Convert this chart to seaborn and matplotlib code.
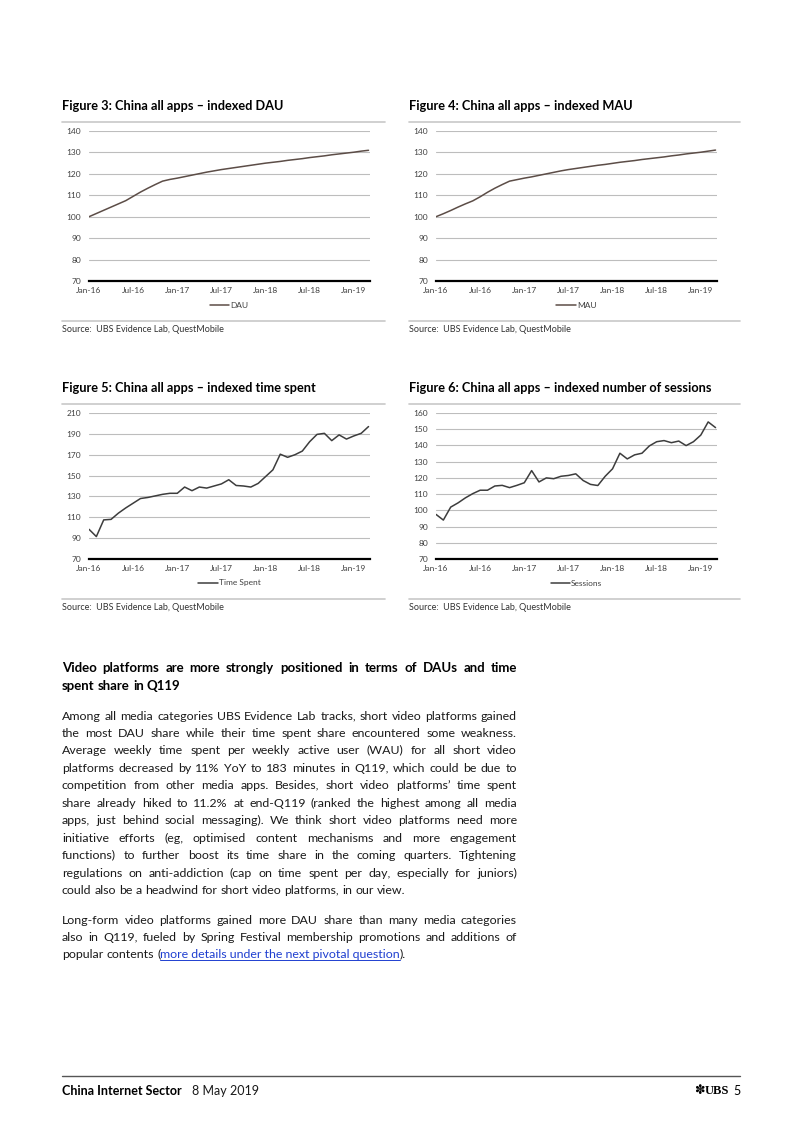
import math
import matplotlib
matplotlib.use('Agg')
import matplotlib.pyplot as plt
from matplotlib.lines import Line2D
import seaborn as sns
import pandas as pd

W, H = 802, 1133

# monthly index values, Jan-16 .. Mar-19
tick_labels = ['Jan-16', 'Jul-16', 'Jan-17', 'Jul-17', 'Jan-18', 'Jul-18', 'Jan-19']

dau = [100.0, 101.5, 103.0, 104.5, 106.0, 107.5, 109.5, 111.5, 113.3, 115.0,
       116.6, 117.4, 118.0, 118.7, 119.4, 120.1, 120.8, 121.4, 122.0, 122.5,
       123.0, 123.5, 124.0, 124.5, 125.0, 125.4, 125.8, 126.3, 126.7, 127.1,
       127.6, 128.0, 128.4, 128.9, 129.3, 129.7, 130.1, 130.6, 131.0]
mau = [100.0, 101.4, 102.9, 104.5, 106.0, 107.4, 109.3, 111.4, 113.3, 115.0,
       116.6, 117.3, 118.0, 118.6, 119.3, 120.0, 120.7, 121.4, 122.0, 122.5,
       123.0, 123.5, 124.0, 124.4, 124.9, 125.4, 125.8, 126.2, 126.7, 127.1,
       127.5, 127.9, 128.4, 128.8, 129.3, 129.7, 130.1, 130.6, 131.1]
time_spent = [98.5, 91.5, 107.5, 108.0, 114.0, 119.0, 123.5, 128.0, 129.0, 130.5,
              132.0, 133.0, 133.0, 139.0, 135.5, 139.0, 138.0, 140.0, 142.0, 146.0,
              140.5, 140.0, 139.0, 142.5, 149.0, 155.5, 170.5, 167.5, 170.0, 173.5,
              182.5, 189.5, 190.5, 183.5, 189.0, 185.0, 188.0, 190.5, 197.0]
sessions = [97.5, 94.0, 102.0, 104.6, 107.7, 110.3, 112.4, 112.4, 115.0, 115.4,
            114.0, 115.4, 117.0, 124.5, 117.5, 120.0, 119.5, 121.0, 121.5, 122.5,
            118.4, 116.0, 115.3, 121.0, 125.6, 135.2, 131.7, 134.2, 135.2, 139.7,
            142.3, 143.0, 141.7, 142.7, 139.9, 142.3, 146.4, 154.5, 151.0]

sns.set_style('white')
plt.rcParams['font.family'] = ['Lato', 'DejaVu Sans']

fig = plt.figure(figsize=(W / 100, H / 100), dpi=100)
renderer = fig.canvas.get_renderer()


def fx(x):
    return x / W


def fy(y):
    return 1 - y / H


def width(t):
    return t.get_window_extent(renderer).width


def str_width(s, size, weight='normal'):
    t = fig.text(0, 0, s, fontsize=size, fontweight=weight)
    w = width(t)
    t.remove()
    return w


def fit_size(s, target, weight='normal'):
    # font size that makes string s about target px wide
    return 10 * target / str_width(s, 10, weight)


def hline(x0, x1, y, color='#c8c8c8', lw=1.2):
    fig.add_artist(Line2D([fx(x0), fx(x1)], [fy(y), fy(y)], color=color, lw=lw))


def place(t, x, base):
    # Agg rounds each text bitmap on its own; undo that so all words sit on one baseline
    _, h, d = renderer.get_text_width_height_descent(t.get_text(), t.get_fontproperties(), False)
    err = round(d) - math.floor(h) + math.floor(h - d)
    t.set_position((fx(x), fy(base - err)))


TITLE = fit_size('Figure 6: China all apps \u2013 indexed number of sessions', 303, 'bold')
TICK = fit_size('Jan-16', 25)
SRC = fit_size('Source:  UBS Evidence Lab, QuestMobile', 162)
BODY = fit_size('could also be a headwind for short video platforms, in our view.', 347)
HEAD = fit_size('spent share in Q119', 119, 'bold')


def chart(left, top, bottom, values, name, ylim, yticks, color, title, tx, sx1, t_y):
    fig.text(fx(tx), fy(t_y), title, fontsize=TITLE, fontweight='bold', va='center', color='black')
    hline(tx, sx1, t_y + 16)
    ax = fig.add_axes([fx(left), fy(bottom), 281 / W, (bottom - top) / H])
    df = pd.DataFrame({'month': range(len(values)), 'value': values})
    sns.lineplot(data=df, x='month', y='value', ax=ax, color=color, lw=1.1, label=name)
    ax.set_xlim(0, 38.2)
    ax.set_ylim(ylim)
    ax.set_yticks(yticks)
    ax.set_xticks(range(0, 37, 6), tick_labels)
    ax.grid(axis='y', color='#bdbdbd', lw=0.8)
    ax.grid(axis='x', visible=False)
    for s in ['top', 'right', 'left']:
        ax.spines[s].set_visible(False)
    ax.spines['bottom'].set_color('black')
    ax.spines['bottom'].set_linewidth(1.6)
    ax.tick_params(length=0, labelsize=TICK, colors='#404040')
    ax.tick_params(axis='y', pad=5.5)
    ax.tick_params(axis='x', pad=4)
    ax.set_xlabel('')
    ax.set_ylabel('')
    axh = bottom - top
    ax.legend(loc='center', bbox_to_anchor=(0.5, -24 / axh), frameon=False,
              handlelength=2.3, handletextpad=0.15, fontsize=TICK, labelcolor='#404040')
    hline(tx, sx1, bottom + 40)
    fig.text(fx(tx), fy(bottom + 48), 'Source:  UBS Evidence Lab, QuestMobile',
             fontsize=SRC, va='center', color='#333333')


brown = '#5c4d47'
dark = '#3d3d3d'
chart(89, 131, 281, dau, 'DAU', (70, 140), range(70, 141, 10), brown,
      'Figure 3: China all apps \u2013 indexed DAU', 62, 385, 106)
chart(436, 131, 281, mau, 'MAU', (70, 140), range(70, 141, 10), brown,
      'Figure 4: China all apps \u2013 indexed MAU', 409, 740, 106)
chart(89, 413, 559, time_spent, 'Time Spent', (70, 210), range(70, 211, 20), dark,
      'Figure 5: China all apps \u2013 indexed time spent', 62, 385, 388)
chart(436, 413, 559, sessions, 'Sessions', (70, 160), range(70, 161, 10), dark,
      'Figure 6: China all apps \u2013 indexed number of sessions', 409, 740, 388)

# ---- body text, justified word by word ----
X0, X1 = 62, 517


def put_line(line, y, justify, size=None, weight='normal', color='#1a1a1a'):
    size = size or BODY
    base = round(y + 4.5)
    words = line.split(' ')
    texts = [fig.text(0, 0, w, fontsize=size, fontweight=weight, color=color,
                      va='baseline', ha='left') for w in words]
    ws = [width(t) for t in texts]
    space = str_width('a a', size, weight) - str_width('aa', size, weight)
    if justify and len(words) > 1:
        gap = (X1 - X0 - sum(ws)) / (len(words) - 1)
    else:
        gap = space
    x = X0
    for t, w in zip(texts, ws):
        place(t, x, base)
        x += w + gap
    return x - gap, base


heading = ['Video platforms are more strongly positioned in terms of DAUs and time',
           'spent share in Q119']
for i, line in enumerate(heading):
    put_line(line, 667.5 + 17.5 * i, i == 0, size=HEAD, weight='bold', color='black')

para1 = [
    'Among all media categories UBS Evidence Lab tracks, short video platforms gained',
    'the most DAU share while their time spent share encountered some weakness.',
    'Average weekly time spent per weekly active user (WAU) for all short video',
    'platforms decreased by 11% YoY to 183 minutes in Q119, which could be due to',
    'competition from other media apps. Besides, short video platforms\u2019 time spent',
    'share already hiked to 11.2% at end-Q119 (ranked the highest among all media',
    'apps, just behind social messaging). We think short video platforms need more',
    'initiative efforts (eg, optimised content mechanisms and more engagement',
    'functions) to further boost its time share in the coming quarters. Tightening',
    'regulations on anti-addiction (cap on time spent per day, especially for juniors)',
    'could also be a headwind for short video platforms, in our view.',
]
for i, line in enumerate(para1):
    put_line(line, 715 + 17.47 * i, i < len(para1) - 1)

para2 = [
    'Long-form video platforms gained more DAU share than many media categories',
    'also in Q119, fueled by Spring Festival membership promotions and additions of',
]
for i, line in enumerate(para2):
    put_line(line, 919.3 + 17.4 * i, True)

# last line with the link
x_end, base = put_line('popular contents (', 954, False)
link = fig.text(0, 0, 'more details under the next pivotal question',
                fontsize=BODY, color='#1f3fd0', va='baseline', ha='left')
place(link, x_end, base)
lw_ = width(link)
fig.add_artist(Line2D([fx(x_end), fx(x_end + lw_)], [fy(base + 2), fy(base + 2)],
                      color='#1f3fd0', lw=0.7))
close = fig.text(0, 0, ').', fontsize=BODY, color='#1a1a1a', va='baseline', ha='left')
place(close, x_end + lw_, base)

# ---- footer ----
hline(62, 740, 1076, color='#555555', lw=1.0)
FOOT = fit_size('China Internet Sector', 120, 'bold')
fig.text(fx(62), fy(1091), 'China Internet Sector', fontsize=FOOT, fontweight='bold',
         va='center', color='black')
fig.text(fx(192), fy(1091), '8 May 2019', fontsize=FOOT, va='center', color='#1a1a1a')
fig.text(fx(741), fy(1091), '5', fontsize=FOOT, va='center', ha='right', color='black')
fig.text(fx(729), fy(1091), 'UBS', fontsize=FOOT, va='center', ha='right',
         family='Liberation Serif', fontweight='bold', color='black')
fig.text(fx(706), fy(1091), '\u273d', fontsize=FOOT, va='center', ha='right',
         family='DejaVu Sans', color='black')

fig.savefig('out.png', dpi=100)
